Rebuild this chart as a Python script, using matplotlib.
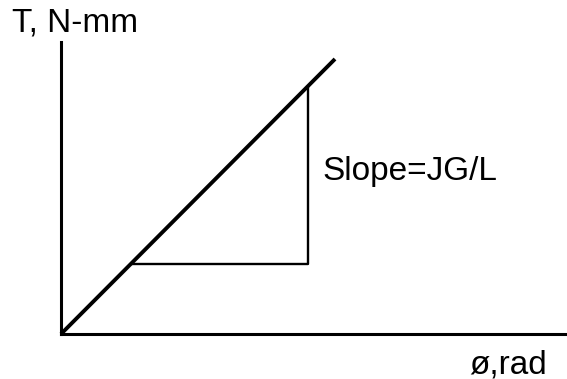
import matplotlib
matplotlib.use("Agg")
import matplotlib.pyplot as plt

# torque vs angle of twist, in drawing units (origin at the axes corner)
line_phi = [0, 274]
line_T = [0, 275]
tri_phi = [71, 247, 247]
tri_T = [70, 70, 247]

plt.rcParams['font.family'] = ['Liberation Sans', 'DejaVu Sans']

W, H = 567, 379
fig = plt.figure(figsize=(W / 100, H / 100), dpi=100)
x0, y0 = 61, 334
ax = fig.add_axes([x0 / W, (H - y0) / H, (W - x0) / W, (y0 - 42) / H])
ax.set_xlim(0, W - x0)
ax.set_ylim(0, y0 - 42)
ax.spines['top'].set_visible(False)
ax.spines['right'].set_visible(False)
ax.spines['left'].set_linewidth(2.2)
ax.spines['bottom'].set_linewidth(2.2)
ax.set_xticks([])
ax.set_yticks([])
ax.patch.set_alpha(0)

ax.plot(line_phi, line_T, color='black', lw=2.8, solid_capstyle='butt', clip_on=False)
ax.plot(tri_phi, tri_T, color='black', lw=1.7, clip_on=False)

fs = 24
fig.text(12 / W, 1 - 32 / H, "T, N-mm", fontsize=fs, ha='left', va='baseline')
fig.text(322 / W, 1 - 180 / H, "Slope=JG/L", fontsize=fs, ha='left', va='baseline')
fig.text(547 / W, 1 - 373 / H, "ø,rad", fontsize=fs, ha='right', va='baseline')

fig.savefig("out.png", dpi=100)
